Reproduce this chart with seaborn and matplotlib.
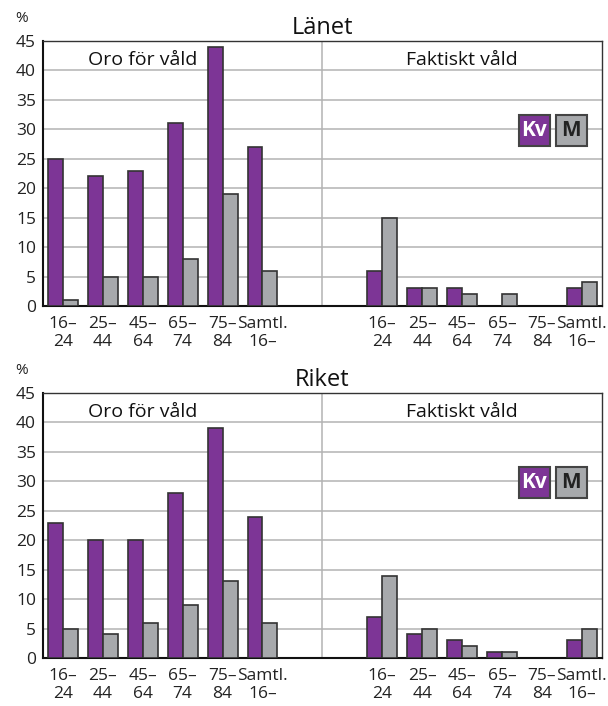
import pandas as pd
import seaborn as sns
import matplotlib.pyplot as plt
from matplotlib.patches import Rectangle

# Values (%)
age_groups = ['16–\n24', '25–\n44', '45–\n64', '65–\n74', '75–\n84', 'Samtl.\n16–']

lanet_oro_kv = [25, 22, 23, 31, 44, 27]
lanet_oro_m = [1, 5, 5, 8, 19, 6]
lanet_fakt_kv = [6, 3, 3, 0, 0, 3]
lanet_fakt_m = [15, 3, 2, 2, 0, 4]

riket_oro_kv = [23, 20, 20, 28, 39, 24]
riket_oro_m = [5, 4, 6, 9, 13, 6]
riket_fakt_kv = [7, 4, 3, 1, 0, 3]
riket_fakt_m = [14, 5, 2, 1, 0, 5]

sexes = ['Kv', 'M']
purple = '#7D3596'
grey = '#A7A9AC'
edge = '#333333'

# slot order: 6 groups, two empty slots, 6 groups
slots = ['o%d' % i for i in range(6)] + ['gap1', 'gap2'] + ['f%d' % i for i in range(6)]
slot_labels = age_groups + ['', ''] + age_groups


def build_frame(oro_kv, oro_m, fakt_kv, fakt_m):
    rows = []
    for i in range(6):
        rows.append(('o%d' % i, 'Kv', oro_kv[i]))
        rows.append(('o%d' % i, 'M', oro_m[i]))
        rows.append(('f%d' % i, 'Kv', fakt_kv[i]))
        rows.append(('f%d' % i, 'M', fakt_m[i]))
    df = pd.DataFrame(rows, columns=['slot', 'kon', 'andel'])
    return df[df['andel'] > 0]


sns.set_style('white')
plt.rcParams['font.family'] = ['Open Sans', 'DejaVu Sans']

fig = plt.figure(figsize=(6.08, 7.06), dpi=100)
ax_top = fig.add_axes([0.0707, 0.5666, 0.919, 0.3754])
ax_bot = fig.add_axes([0.0707, 0.0680, 0.919, 0.3754])

panels = [
    (ax_top, 'Länet', build_frame(lanet_oro_kv, lanet_oro_m, lanet_fakt_kv, lanet_fakt_m)),
    (ax_bot, 'Riket', build_frame(riket_oro_kv, riket_oro_m, riket_fakt_kv, riket_fakt_m)),
]

for ax, title, df in panels:
    sns.barplot(data=df, x='slot', y='andel', hue='kon', order=slots, hue_order=sexes,
                palette=[purple, grey], width=0.75, edgecolor=edge, linewidth=1.2,
                saturation=1, legend=False, ax=ax, zorder=3)
    ax.set_xlim(-0.5, 13.5)
    ax.set_ylim(0, 45)
    ax.set_yticks(range(0, 46, 5))
    ax.yaxis.grid(True, color='#b3b3b3', linewidth=1.1, zorder=0)
    ax.xaxis.grid(False)
    ax.set_axisbelow(True)
    ax.axvline(6.5, color='#b3b3b3', linewidth=1.1, zorder=1)
    ax.set_xticks(range(len(slots)))
    ax.set_xticklabels(slot_labels, fontsize=12.5, linespacing=1.15, color='#222222')
    ax.tick_params(axis='y', labelsize=12.5, length=0, pad=5, colors='#222222')
    ax.tick_params(axis='x', length=0, pad=7)
    ax.set_xlabel('')
    ax.set_ylabel('')
    for side in ['top', 'right']:
        ax.spines[side].set_color('#333333')
        ax.spines[side].set_linewidth(1.0)
    for side in ['left', 'bottom']:
        ax.spines[side].set_color('#111111')
        ax.spines[side].set_linewidth(1.5)

    ax.set_title(title, fontsize=17, pad=5, color='#111111')
    ax.text(-0.0376, 1.085, '%', transform=ax.transAxes, fontsize=11,
            ha='center', va='center', color='#222222')
    ax.text(2.0, 41.8, 'Oro för våld', fontsize=14, ha='center', va='center',
            color='#111111', zorder=4)
    ax.text(10.0, 41.8, 'Faktiskt våld', fontsize=14, ha='center', va='center',
            color='#111111', zorder=4)

    # Kv / M legend boxes
    for x0, label, fc, tc in [(0.8515, 'Kv', purple, 'white'), (0.9177, 'M', grey, '#222222')]:
        ax.add_patch(Rectangle((x0, 0.604), 0.0555, 0.117, transform=ax.transAxes,
                               facecolor=fc, edgecolor='#444444', linewidth=1.5, zorder=5))
        ax.text(x0 + 0.0277, 0.6625, label, transform=ax.transAxes, fontsize=15,
                fontweight='bold', ha='center', va='center', color=tc, zorder=6)

plt.savefig('out.png', dpi=100)
